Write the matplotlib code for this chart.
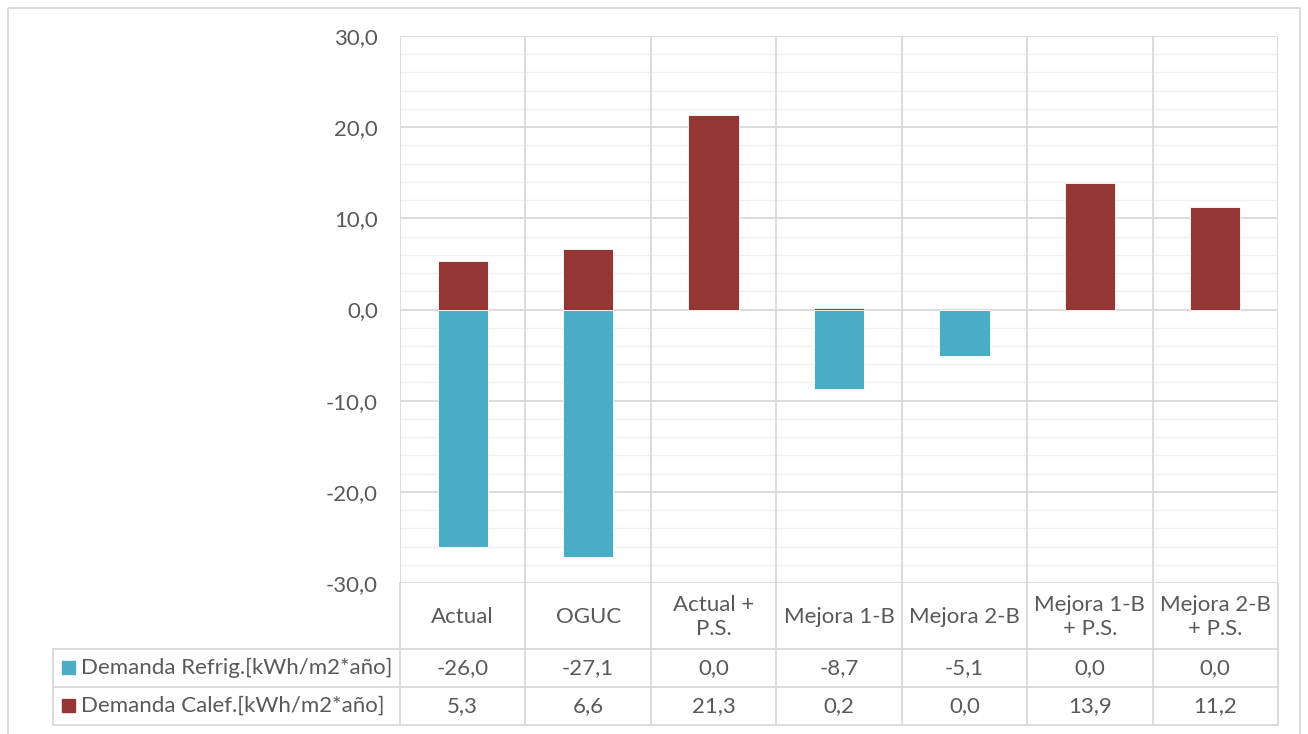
import matplotlib
matplotlib.use("Agg")
import matplotlib.pyplot as plt
from matplotlib.patches import Rectangle

categories = ["Actual", "OGUC", "Actual +\nP.S.", "Mejora 1-B", "Mejora 2-B",
              "Mejora 1-B\n+ P.S.", "Mejora 2-B\n+ P.S."]
refrig = [-26.0, -27.1, 0.0, -8.7, -5.1, 0.0, 0.0]
calef = [5.3, 6.6, 21.3, 0.2, 0.0, 13.9, 11.2]
series_names = ["Demanda Refrig.[kWh/m2*año]", "Demanda Calef.[kWh/m2*año]"]
y_ticks = [-30, -20, -10, 0, 10, 20, 30]

BLUE = "#4BACC6"
RED = "#943634"
TXT = "#595959"
GRID = "#D9D9D9"
MINOR = "#F0F0F0"
FS = 16

plt.rcParams['font.family'] = ['Lato', 'DejaVu Sans']

W, H = 1308, 734
fig = plt.figure(figsize=(W / 100, H / 100), dpi=100)

# plot area in pixel coordinates
L, R, T, B = 400, 1278, 36, 583
ax = fig.add_axes([L / W, 1 - B / H, (R - L) / W, (B - T) / H])
ax.set_xlim(-0.5, len(categories) - 0.5)
ax.set_ylim(-30, 30)

# overlay for frame and table, in pixel coordinates
ov = fig.add_axes([0, 0, 1, 1], zorder=-1)
ov.set_xlim(0, W)
ov.set_ylim(H, 0)
ov.axis("off")

# minor / major horizontal grid
for v in range(-30, 31, 2):
    ax.axhline(v, color=GRID if v % 10 == 0 else MINOR, lw=1.3 if v % 10 == 0 else 1.0, zorder=0)
# category separators
for i in range(len(categories) + 1):
    ax.axvline(i - 0.5, color=GRID, lw=1.3, zorder=0)

x = list(range(len(categories)))
ax.bar(x, refrig, width=0.4, color=BLUE, edgecolor="white", linewidth=0.6, zorder=2)
ax.bar(x, calef, width=0.4, color=RED, edgecolor="white", linewidth=0.6, zorder=2)

for s in ax.spines.values():
    s.set_visible(False)
ax.set_xticks([])
ax.set_yticks(y_ticks)
ax.set_yticklabels([f"{v:.1f}".replace(".", ",") for v in y_ticks])
ax.tick_params(axis="y", length=0, pad=16, labelsize=FS, labelcolor=TXT)

# outer chart frame
ov.add_patch(Rectangle((7.5, 7.5), 1292, 740, fill=False, edgecolor=GRID, lw=1.3))

# data table below the plot
def px_x(i):
    return L + (i + 0.5) / len(categories) * (R - L)

row_lab = (B, 649)
rows = [(649, 687), (687, 725)]
edges = [L + k * (R - L) / len(categories) for k in range(len(categories) + 1)]
for e in edges:
    ov.plot([e, e], [B, 725], color=GRID, lw=1.3)
for yy in (649, 687, 725):
    ov.plot([53, R], [yy, yy], color=GRID, lw=1.3)
ov.plot([53, 53], [649, 725], color=GRID, lw=1.3)

for i, c in enumerate(categories):
    ov.text(px_x(i), (row_lab[0] + row_lab[1]) / 2 + 1, c, ha="center", va="center",
            fontsize=FS, color=TXT, linespacing=1.3)

for (y0, y1), name, vals, col in zip(rows, series_names, [refrig, calef], [BLUE, RED]):
    yc = (y0 + y1) / 2
    ov.add_patch(Rectangle((62, yc - 7), 13, 13, color=col))
    ov.text(81, yc, name, ha="left", va="center", fontsize=FS, color=TXT)
    for i, v in enumerate(vals):
        ov.text(px_x(i), yc, f"{v:.1f}".replace(".", ","), ha="center", va="center",
                fontsize=FS, color=TXT)

fig.savefig("out.png", dpi=100, facecolor="white")
